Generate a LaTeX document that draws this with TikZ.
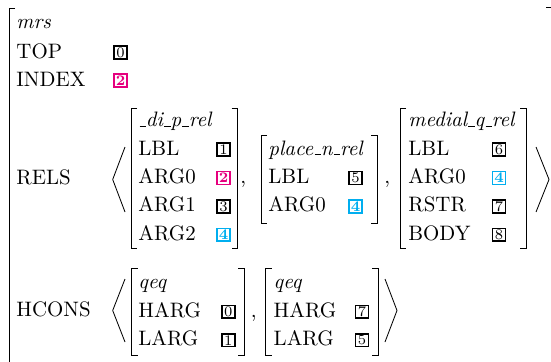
\documentclass[tikz,border=0pt]{standalone}
\definecolor{tagmagenta}{RGB}{230,0,126}
\definecolor{tagcyan}{RGB}{0,174,239}
\tikzset{
  attr/.style={anchor=base west, inner sep=0pt},
  typ/.style={attr, font=\itshape},
  tagbox/.style={draw, line width=0.8pt, font=\scriptsize, inner sep=0pt,
    minimum width=6.3pt, minimum height=6.1pt},
  tagm/.style={tagbox, draw=tagmagenta, text=tagmagenta, font=\scriptsize\bfseries},
  tagc/.style={tagbox, draw=tagcyan, text=tagcyan, font=\scriptsize\bfseries},
  brk/.style={line width=0.45pt},
  ang/.style={line width=0.4pt},
}
% low rule used inside type names
\newcommand\usc{\kern0.06em\rule{0.3em}{0.5pt}}
% square brackets round an AVM: left x, right x, top y, bottom y
\newcommand\avmbrackets[4]{%
  \draw[brk] (#1+6,#3) -- (#1,#3) -- (#1,#4) -- (#1+6,#4);
  \draw[brk] (#2-6,#3) -- (#2,#3) -- (#2,#4) -- (#2-6,#4);}
\begin{document}
\begin{tikzpicture}[x=0.4785pt, y=-0.4785pt]
\useasboundingbox (0,0) rectangle (551,362);
\clip (0,0) rectangle (551,362);

% outer structure brackets
\draw[brk] (15,8) -- (9,8) -- (9,370);
\draw[brk] (546,7.8) -- (553,7.8) -- (553,370);

% outer attributes
\node[typ]  (mrs)   at (16,28.3) {mrs};
\node[attr] (top)   at (16,58)   {TOP};
\node[attr] (index) at (16,86)   {INDEX};
\node[attr] (rels)  at (16,184)  {RELS};
\node[attr] (hcons) at (16,316.5){HCONS};
\node[tagbox] (t0) at (120.5,52.5) {0};
\node[tagm]   (t2) at (120.5,80.5) {2};

% RELS list
\draw[ang] (125,147) -- (112.7,179.5) -- (125,212);
\draw[ang] (536,147) -- (549,179.5) -- (536,212);

% _di_p_rel
\avmbrackets{131}{237.5}{108}{248}
\node[typ]  (r1t) at (138,126.7) {\usc di\usc p\usc rel};
\node[attr] (r1a) at (138,155.1) {LBL};
\node[attr] (r1b) at (138,183.5) {ARG0};
\node[attr] (r1c) at (138,211.9) {ARG1};
\node[attr] (r1d) at (138,240.3) {ARG2};
\node[tagbox] (r1va) at (223.5,149.6) {1};
\node[tagm]   (r1vb) at (223.5,178)   {2};
\node[tagbox] (r1vc) at (223.5,206.4) {3};
\node[tagc]   (r1vd) at (223.5,234.8) {4};
\node[attr] (c1) at (240,183.5) {,};

% place_n_rel
\avmbrackets{261}{377}{135}{223}
\node[typ]  (r2t) at (268,155.1) {place\usc n\usc rel};
\node[attr] (r2a) at (268,183.5) {LBL};
\node[attr] (r2b) at (268,211.9) {ARG0};
\node[tagbox] (r2va) at (355.5,178)   {5};
\node[tagc]   (r2vb) at (355.5,206.4) {4};
\node[attr] (c2) at (384,183.5) {,};

% medial_q_rel
\avmbrackets{400}{526}{108}{248}
\node[typ]  (r3t) at (408,126.7) {medial\usc q\usc rel};
\node[attr] (r3a) at (408,155.1) {LBL};
\node[attr] (r3b) at (408,183.5) {ARG0};
\node[attr] (r3c) at (408,211.9) {RSTR};
\node[attr] (r3d) at (408,240.3) {BODY};
\node[tagbox] (r3va) at (499,149.6) {6};
\node[tagc]   (r3vb) at (499,178)   {4};
\node[tagbox] (r3vc) at (499,206.4) {7};
\node[tagbox] (r3vd) at (499,234.8) {8};

% HCONS list
\draw[ang] (125,279) -- (112.7,310.5) -- (125,342);
\draw[ang] (385,279) -- (397,310.5) -- (385,342);

\avmbrackets{131.7}{244}{268}{355}
\node[typ]  (h1t) at (138,288.3) {qeq};
\node[attr] (h1a) at (138,317.3) {HARG};
\node[attr] (h1b) at (138,345.7) {LARG};
\node[tagbox] (h1va) at (228.3,311.8) {0};
\node[tagbox] (h1vb) at (228.3,340.2) {1};
\node[attr] (c3) at (250.5,317.3) {,};

\avmbrackets{265.7}{378.3}{268}{355}
\node[typ]  (h2t) at (273.3,288.3) {qeq};
\node[attr] (h2a) at (273.3,317.3) {HARG};
\node[attr] (h2b) at (273.3,345.7) {LARG};
\node[tagbox] (h2va) at (362,311.8) {7};
\node[tagbox] (h2vb) at (362,340.2) {5};
\end{tikzpicture}
\end{document}
